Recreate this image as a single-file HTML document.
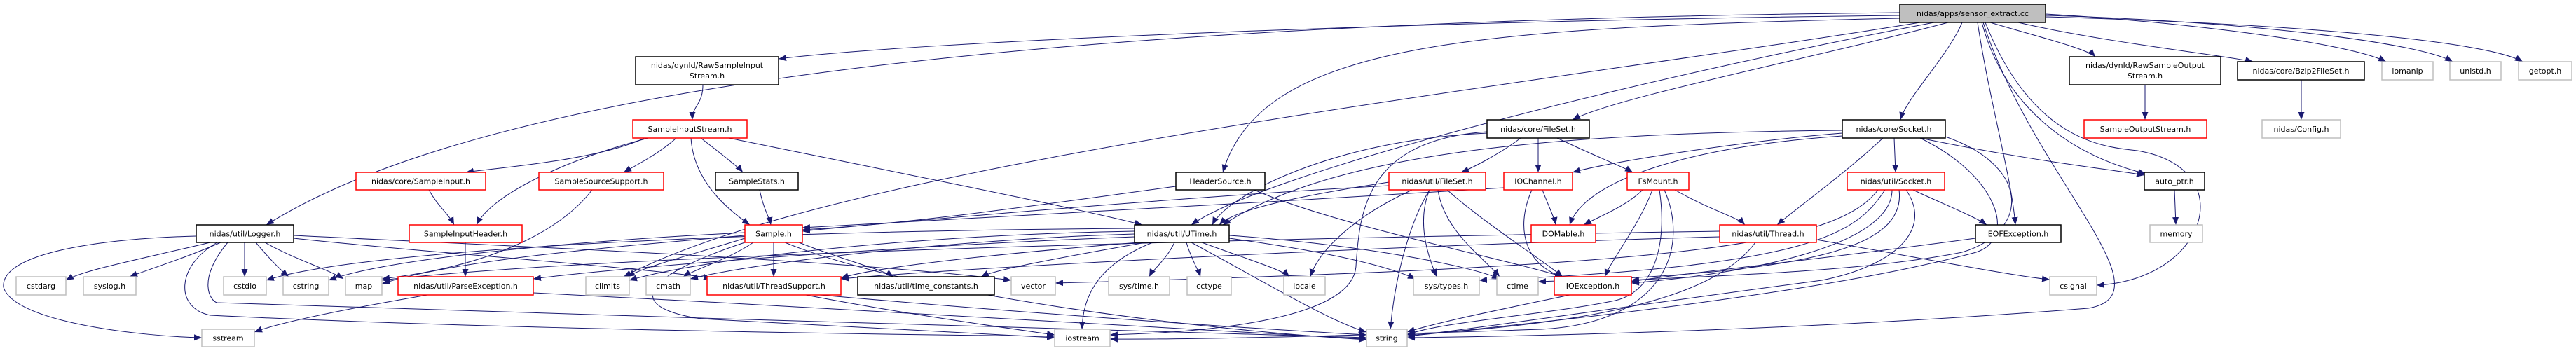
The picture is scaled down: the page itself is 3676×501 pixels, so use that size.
<!DOCTYPE html>
<html><head><meta charset="utf-8">
<style>
html,body{margin:0;padding:0;background:#fff;}
svg{display:block;}
text{font-family:"DejaVu Sans","Liberation Sans",sans-serif;font-size:11px;fill:#000;}
#edges path{fill:none;stroke:#191970;stroke-width:1;marker-end:url(#ar);}
</style></head>
<body>
<svg width="3676" height="501" viewBox="0 0 3676 501" xmlns="http://www.w3.org/2000/svg">
<defs>
<marker id="ar" markerWidth="12" markerHeight="10" refX="11" refY="5" orient="auto" markerUnits="userSpaceOnUse">
<path d="M0,0.5 L11,5 L0,9.5 Z" fill="#191970"/>
</marker>
</defs>
<g id="edges">
<path d="M2711,18 C1500,30 700,120 380,321"/>
<path d="M2711,22 C2000,30 1300,60 1111,84"/>
<path d="M2711,26 C2100,40 1800,60 1745,246"/>
<path d="M2740,32 C2200,120 1200,230 890,395"/>
<path d="M2760,32 C2300,120 1800,250 1700,321"/>
<path d="M2780,32 C2600,80 2300,140 2244,171"/>
<path d="M2800,32 C2780,80 2720,140 2712,171"/>
<path d="M2840,32 C2900,50 2980,70 2990,81"/>
<path d="M2880,32 C3000,60 3180,80 3215,88"/>
<path d="M2919,20 C3100,30 3350,60 3405,88"/>
<path d="M2919,22 C3200,30 3450,60 3500,88"/>
<path d="M2919,24 C3300,35 3550,60 3600,88"/>
<path d="M2822,32 C2840,150 2870,250 2876,321"/>
<path d="M2828,32 C2860,150 2950,220 3062,248"/>
<path d="M2833,32 C2900,200 3000,210 3050,215 C3200,240 3150,400 2992,407"/>
<path d="M2830,32 C2900,250 3100,420 2980,440 C2600,470 2200,480 2008,482"/>
<path d="M1003,121 C1003,150 988,150 988,171"/>
<path d="M920,197 C850,230 700,240 665,246"/>
<path d="M925,197 C800,230 700,280 680,321"/>
<path d="M965,197 C940,220 900,240 890,246"/>
<path d="M1000,197 C1030,220 1055,240 1060,246"/>
<path d="M986,197 C990,260 1040,300 1070,321"/>
<path d="M1040,197 C1300,250 1550,300 1630,321"/>
<path d="M612,271 C625,295 640,305 648,321"/>
<path d="M845,271 C800,330 700,380 545,398"/>
<path d="M664,346 L664,395"/>
<path d="M1084,271 C1090,300 1098,310 1100,321"/>
<path d="M1678,266 C1500,290 1300,320 1145,328"/>
<path d="M1790,271 C1900,320 2150,370 2230,395"/>
<path d="M300,346 C200,370 120,385 94,400"/>
<path d="M315,346 C260,370 210,385 185,395"/>
<path d="M349,346 L349,395"/>
<path d="M365,346 C385,370 400,385 412,395"/>
<path d="M378,346 C420,370 470,385 490,398"/>
<path d="M280,337 C150,340 0,360 5,410 C20,460 200,480 288,482"/>
<path d="M310,346 C250,380 250,440 300,450 C700,470 1300,478 1505,480"/>
<path d="M325,346 C280,400 300,430 310,432 C800,450 1600,470 1950,482"/>
<path d="M419,340 C600,360 900,380 1015,397"/>
<path d="M419,336 C700,350 1200,370 1443,400"/>
<path d="M610,421 C500,440 400,460 363,474"/>
<path d="M761,418 C1200,440 1700,470 1950,484"/>
<path d="M1063,340 C1000,360 920,380 895,395"/>
<path d="M1075,346 C1040,370 990,385 975,395"/>
<path d="M1104,346 L1104,395"/>
<path d="M1140,346 C1200,370 1260,385 1275,395"/>
<path d="M1063,336 C900,350 650,370 545,405"/>
<path d="M1063,332 C800,345 550,370 469,400"/>
<path d="M1063,346 C900,400 900,440 1000,455 C1300,470 1450,478 1505,482"/>
<path d="M1120,346 C1300,420 1700,470 1950,485"/>
<path d="M1619,338 C1300,350 900,380 761,398"/>
<path d="M1619,334 C1400,340 1100,370 985,398"/>
<path d="M1625,346 C1450,360 1250,380 1200,397"/>
<path d="M1635,346 C1500,370 1420,385 1400,395"/>
<path d="M1676,346 C1665,370 1645,385 1640,395"/>
<path d="M1693,346 C1700,370 1710,385 1713,395"/>
<path d="M1645,346 C1560,380 1545,430 1544,470"/>
<path d="M1715,346 C1780,370 1830,385 1840,395"/>
<path d="M1754,340 C1900,360 1980,380 2020,398"/>
<path d="M1754,336 C1950,350 2100,380 2140,398"/>
<path d="M1700,346 C1800,400 1900,460 1950,474"/>
<path d="M1619,330 C1300,335 1000,370 898,400"/>
<path d="M1619,326 C1000,330 500,360 380,400"/>
<path d="M1150,421 C1300,450 1450,470 1505,478"/>
<path d="M1170,421 C1500,450 1800,470 1950,478"/>
<path d="M2170,197 C2140,220 2100,240 2085,246"/>
<path d="M2195,197 L2195,246"/>
<path d="M2222,197 C2270,220 2320,240 2330,246"/>
<path d="M2122,188 C1950,200 1940,300 1935,380 C1930,460 1700,475 1584,478"/>
<path d="M2122,190 C1900,200 1750,280 1730,321"/>
<path d="M1982,260 C1850,280 1760,300 1740,321"/>
<path d="M1982,265 C1700,280 1300,315 1145,330"/>
<path d="M2015,271 C1930,310 1880,360 1870,395"/>
<path d="M2040,271 C2020,320 2040,370 2050,395"/>
<path d="M2052,271 C2060,330 2120,370 2140,395"/>
<path d="M2065,271 C2120,320 2200,370 2230,395"/>
<path d="M2040,271 C2010,320 1990,400 1984,470"/>
<path d="M2201,271 C2210,295 2218,310 2220,321"/>
<path d="M2186,271 C2160,330 2180,380 2230,395"/>
<path d="M2146,268 C1800,290 1400,310 1145,325"/>
<path d="M2344,271 C2320,295 2280,310 2260,321"/>
<path d="M2390,271 C2440,300 2480,310 2490,321"/>
<path d="M2358,271 C2340,320 2300,370 2290,395"/>
<path d="M2368,271 C2380,350 2360,420 2300,430 C2200,450 2050,460 2008,478"/>
<path d="M2375,271 C2410,350 2380,460 2200,470 C1900,480 1700,485 1584,484"/>
<path d="M2629,190 C2500,200 2300,230 2244,246"/>
<path d="M2629,194 C2400,210 2260,260 2240,321"/>
<path d="M2703,197 L2705,246"/>
<path d="M2687,197 C2630,250 2560,300 2536,321"/>
<path d="M2740,197 C2900,230 3000,240 3060,250"/>
<path d="M2629,186 C2200,190 1900,220 1745,321"/>
<path d="M2740,197 C2850,250 2880,340 2820,360 C2600,420 2200,460 2008,480"/>
<path d="M2760,190 C2900,230 2900,330 2800,360 C2650,390 2400,395 2328,400"/>
<path d="M2730,271 C2770,290 2820,310 2835,321"/>
<path d="M2700,271 C2700,350 2500,390 2328,404"/>
<path d="M2690,271 C2650,330 2600,380 2111,400"/>
<path d="M2710,271 C2720,350 2600,390 2195,402"/>
<path d="M2680,271 C2620,350 2400,380 1506,404"/>
<path d="M2720,271 C2760,330 2700,380 2600,400 C2300,440 2100,470 2008,480"/>
<path d="M2454,338 C2000,350 1400,380 1200,398"/>
<path d="M2454,330 C1500,345 800,370 545,400"/>
<path d="M2592,342 C2750,370 2880,395 2925,399"/>
<path d="M2505,346 C2450,420 2300,460 2008,478"/>
<path d="M2819,340 C2600,370 2400,390 2328,402"/>
<path d="M2240,421 C2150,440 2050,460 2008,474"/>
<path d="M3103,271 L3105,321"/>
<path d="M3061,121 L3061,171"/>
<path d="M3284,114 L3284,171"/>
</g>
<g id="nodes">
<rect x="2711" y="6" width="208" height="26" fill="#bfbfbf" stroke="#000" stroke-width="1.5"/><text x="2815" y="23" text-anchor="middle">nidas/apps/sensor_extract.cc</text>

<rect x="280" y="321" width="139" height="25" fill="#fff" stroke="#000" stroke-width="1.5"/><text x="349.5" y="337.5" text-anchor="middle">nidas/util/Logger.h</text>
<rect x="508" y="246" width="185" height="25" fill="#fff" stroke="#f00" stroke-width="1.5"/><text x="600.5" y="262.5" text-anchor="middle">nidas/core/SampleInput.h</text>
<rect x="769" y="246" width="178" height="25" fill="#fff" stroke="#f00" stroke-width="1.5"/><text x="858" y="262.5" text-anchor="middle">SampleSourceSupport.h</text>
<rect x="584" y="321" width="161" height="25" fill="#fff" stroke="#f00" stroke-width="1.5"/><text x="664.5" y="337.5" text-anchor="middle">SampleInputHeader.h</text>
<rect x="23" y="395" width="71" height="26" fill="#fff" stroke="#bfbfbf" stroke-width="1.5"/><text x="58.5" y="412" text-anchor="middle">cstdarg</text>
<rect x="119" y="395" width="75" height="26" fill="#fff" stroke="#bfbfbf" stroke-width="1.5"/><text x="156.5" y="412" text-anchor="middle">syslog.h</text>
<rect x="319" y="395" width="61" height="26" fill="#fff" stroke="#bfbfbf" stroke-width="1.5"/><text x="349.5" y="412" text-anchor="middle">cstdio</text>
<rect x="404" y="395" width="65" height="26" fill="#fff" stroke="#bfbfbf" stroke-width="1.5"/><text x="436.5" y="412" text-anchor="middle">cstring</text>
<rect x="493" y="395" width="52" height="26" fill="#fff" stroke="#bfbfbf" stroke-width="1.5"/><text x="519" y="412" text-anchor="middle">map</text>
<rect x="568" y="395" width="193" height="26" fill="#fff" stroke="#f00" stroke-width="1.5"/><text x="664.5" y="412" text-anchor="middle">nidas/util/ParseException.h</text>
<rect x="836" y="395" width="62" height="26" fill="#fff" stroke="#bfbfbf" stroke-width="1.5"/><text x="867" y="412" text-anchor="middle">climits</text>
<rect x="288" y="470" width="75" height="25" fill="#fff" stroke="#bfbfbf" stroke-width="1.5"/><text x="325.5" y="486.5" text-anchor="middle">sstream</text>

<rect x="907" y="81" width="204" height="40" fill="#fff" stroke="#000" stroke-width="1.5"/><text x="1009" y="97" text-anchor="middle">nidas/dynld/RawSampleInput</text><text x="1009" y="112" text-anchor="middle">Stream.h</text>
<rect x="903" y="171" width="163" height="26" fill="#fff" stroke="#f00" stroke-width="1.5"/><text x="984.5" y="188" text-anchor="middle">SampleInputStream.h</text>
<rect x="1021" y="246" width="118" height="25" fill="#fff" stroke="#000" stroke-width="1.5"/><text x="1080" y="262.5" text-anchor="middle">SampleStats.h</text>
<rect x="1678" y="246" width="127" height="25" fill="#fff" stroke="#000" stroke-width="1.5"/><text x="1741.5" y="262.5" text-anchor="middle">HeaderSource.h</text>
<rect x="1063" y="321" width="82" height="25" fill="#fff" stroke="#f00" stroke-width="1.5"/><text x="1104" y="337.5" text-anchor="middle">Sample.h</text>
<rect x="1619" y="321" width="135" height="25" fill="#fff" stroke="#000" stroke-width="1.5"/><text x="1686.5" y="337.5" text-anchor="middle">nidas/util/UTime.h</text>
<rect x="922" y="395" width="63" height="26" fill="#fff" stroke="#bfbfbf" stroke-width="1.5"/><text x="953.5" y="412" text-anchor="middle">cmath</text>
<rect x="1009" y="395" width="191" height="26" fill="#fff" stroke="#f00" stroke-width="1.5"/><text x="1104.5" y="412" text-anchor="middle">nidas/util/ThreadSupport.h</text>
<rect x="1224" y="395" width="195" height="26" fill="#fff" stroke="#000" stroke-width="1.5"/><text x="1321.5" y="412" text-anchor="middle">nidas/util/time_constants.h</text>
<rect x="1443" y="395" width="63" height="26" fill="#fff" stroke="#bfbfbf" stroke-width="1.5"/><text x="1474.5" y="412" text-anchor="middle">vector</text>
<rect x="1582" y="395" width="87" height="26" fill="#fff" stroke="#bfbfbf" stroke-width="1.5"/><text x="1625.5" y="412" text-anchor="middle">sys/time.h</text>
<rect x="1694" y="395" width="63" height="26" fill="#fff" stroke="#bfbfbf" stroke-width="1.5"/><text x="1725.5" y="412" text-anchor="middle">cctype</text>
<rect x="1505" y="470" width="79" height="25" fill="#fff" stroke="#bfbfbf" stroke-width="1.5"/><text x="1544.5" y="486.5" text-anchor="middle">iostream</text>

<rect x="2122" y="171" width="146" height="26" fill="#fff" stroke="#000" stroke-width="1.5"/><text x="2195" y="188" text-anchor="middle">nidas/core/FileSet.h</text>
<rect x="2629" y="171" width="147" height="26" fill="#fff" stroke="#000" stroke-width="1.5"/><text x="2702.5" y="188" text-anchor="middle">nidas/core/Socket.h</text>
<rect x="1982" y="246" width="138" height="25" fill="#fff" stroke="#f00" stroke-width="1.5"/><text x="2051" y="262.5" text-anchor="middle">nidas/util/FileSet.h</text>
<rect x="2146" y="246" width="98" height="25" fill="#fff" stroke="#f00" stroke-width="1.5"/><text x="2195" y="262.5" text-anchor="middle">IOChannel.h</text>
<rect x="2322" y="246" width="88" height="25" fill="#fff" stroke="#f00" stroke-width="1.5"/><text x="2366" y="262.5" text-anchor="middle">FsMount.h</text>
<rect x="2636" y="246" width="139" height="25" fill="#fff" stroke="#f00" stroke-width="1.5"/><text x="2705.5" y="262.5" text-anchor="middle">nidas/util/Socket.h</text>
<rect x="2185" y="321" width="92" height="25" fill="#fff" stroke="#f00" stroke-width="1.5"/><text x="2231" y="337.5" text-anchor="middle">DOMable.h</text>
<rect x="2454" y="321" width="138" height="25" fill="#fff" stroke="#f00" stroke-width="1.5"/><text x="2523" y="337.5" text-anchor="middle">nidas/util/Thread.h</text>
<rect x="1832" y="395" width="59" height="26" fill="#fff" stroke="#bfbfbf" stroke-width="1.5"/><text x="1861.5" y="412" text-anchor="middle">locale</text>
<rect x="2017" y="395" width="94" height="26" fill="#fff" stroke="#bfbfbf" stroke-width="1.5"/><text x="2064" y="412" text-anchor="middle">sys/types.h</text>
<rect x="2136" y="395" width="59" height="26" fill="#fff" stroke="#bfbfbf" stroke-width="1.5"/><text x="2165.5" y="412" text-anchor="middle">ctime</text>
<rect x="2218" y="395" width="110" height="26" fill="#fff" stroke="#f00" stroke-width="1.5"/><text x="2273" y="412" text-anchor="middle">IOException.h</text>
<rect x="1950" y="470" width="58" height="25" fill="#fff" stroke="#bfbfbf" stroke-width="1.5"/><text x="1979" y="486.5" text-anchor="middle">string</text>

<rect x="2953" y="81" width="216" height="40" fill="#fff" stroke="#000" stroke-width="1.5"/><text x="3061" y="97" text-anchor="middle">nidas/dynld/RawSampleOutput</text><text x="3061" y="112" text-anchor="middle">Stream.h</text>
<rect x="3193" y="88" width="181" height="26" fill="#fff" stroke="#000" stroke-width="1.5"/><text x="3283.5" y="105" text-anchor="middle">nidas/core/Bzip2FileSet.h</text>
<rect x="3399" y="88" width="73" height="26" fill="#fff" stroke="#bfbfbf" stroke-width="1.5"/><text x="3435.5" y="105" text-anchor="middle">iomanip</text>
<rect x="3496" y="88" width="73" height="26" fill="#fff" stroke="#bfbfbf" stroke-width="1.5"/><text x="3532.5" y="105" text-anchor="middle">unistd.h</text>
<rect x="3594" y="88" width="76" height="26" fill="#fff" stroke="#bfbfbf" stroke-width="1.5"/><text x="3632" y="105" text-anchor="middle">getopt.h</text>
<rect x="2974" y="171" width="175" height="26" fill="#fff" stroke="#f00" stroke-width="1.5"/><text x="3061.5" y="188" text-anchor="middle">SampleOutputStream.h</text>
<rect x="3228" y="171" width="112" height="26" fill="#fff" stroke="#bfbfbf" stroke-width="1.5"/><text x="3284" y="188" text-anchor="middle">nidas/Config.h</text>
<rect x="3060" y="246" width="86" height="25" fill="#fff" stroke="#000" stroke-width="1.5"/><text x="3103" y="262.5" text-anchor="middle">auto_ptr.h</text>
<rect x="2819" y="321" width="122" height="25" fill="#fff" stroke="#000" stroke-width="1.5"/><text x="2880" y="337.5" text-anchor="middle">EOFException.h</text>
<rect x="3068" y="321" width="75" height="25" fill="#fff" stroke="#bfbfbf" stroke-width="1.5"/><text x="3105.5" y="337.5" text-anchor="middle">memory</text>
<rect x="2925" y="395" width="67" height="26" fill="#fff" stroke="#bfbfbf" stroke-width="1.5"/><text x="2958.5" y="412" text-anchor="middle">csignal</text>
</g>
</svg>
</body></html>
